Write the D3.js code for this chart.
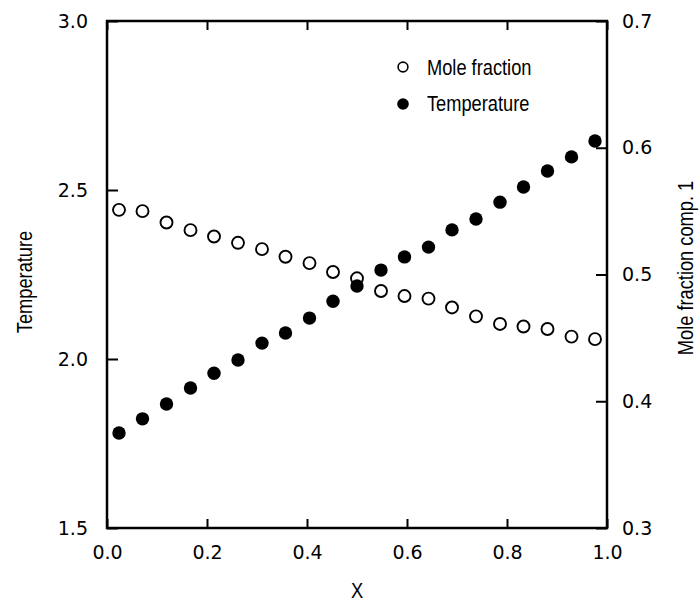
<!DOCTYPE html>
<html lang="en">
  <head>
    <meta charset="utf-8">
    <title>Temperature and mole fraction</title>
    <script src="https://cdn.jsdelivr.net/npm/d3@7"></script>
    <style>
      body { margin: 0; background: #fff; }
      .tick text { font-family: "DejaVu Sans", sans-serif; font-size: 19px; fill: #000; }
      .tick line { stroke: #000; stroke-width: 2; }
      .title { font-family: "Liberation Sans", Arial, sans-serif; font-size: 22px; fill: #000; }
    </style>
  </head>
  <body>
    <script>
      var w = 700;
      var h = 603;

      // x positions of the samples
      var xValues = [0.024, 0.071, 0.119, 0.167, 0.214, 0.262, 0.310, 0.357, 0.405, 0.452,
                     0.500, 0.548, 0.595, 0.643, 0.690, 0.738, 0.786, 0.833, 0.881, 0.929, 0.976];
      // open circles, right axis
      var moleFraction = [0.551, 0.550, 0.541, 0.535, 0.530, 0.525, 0.520, 0.514, 0.509, 0.502,
                          0.497, 0.487, 0.483, 0.481, 0.474, 0.467, 0.461, 0.459, 0.457, 0.451, 0.449];
      // filled circles, left axis
      var temperature = [1.781, 1.823, 1.867, 1.914, 1.958, 1.997, 2.047, 2.077, 2.121, 2.171,
                         2.216, 2.263, 2.302, 2.331, 2.382, 2.414, 2.464, 2.509, 2.556, 2.598, 2.645];

      var xTicks = [0.0, 0.2, 0.4, 0.6, 0.8, 1.0];
      var leftTicks = [1.5, 2.0, 2.5, 3.0];
      var rightTicks = [0.3, 0.4, 0.5, 0.6, 0.7];
      var legendLabels = ["Mole fraction", "Temperature"];

      var padL = 107, padR = 607, padT = 21, padB = 528;
      var squeeze = 0.83; // narrow lettering of the titles

      var xScale = d3.scaleLinear().domain([0, 1]).range([padL, padR]);
      var yLeft = d3.scaleLinear().domain([1.5, 3.0]).range([padB, padT]);
      var yRight = d3.scaleLinear().domain([0.3, 0.7]).range([padB, padT]);

      var svg = d3.select("body")
                  .append("svg")
                  .attr("width", w)
                  .attr("height", h);

      var fmt = d3.format(".1f");

      // axes, ticks point into the plot
      var xAxis = d3.axisBottom(xScale).tickValues(xTicks).tickFormat(fmt)
                    .tickSize(-9).tickPadding(18);
      var xTop = d3.axisTop(xScale).tickValues(xTicks).tickFormat("")
                   .tickSize(-9);
      var lAxis = d3.axisLeft(yLeft).tickValues(leftTicks).tickFormat(fmt)
                    .tickSize(-11).tickPadding(19);
      var rAxis = d3.axisRight(yRight).tickValues(rightTicks).tickFormat(fmt)
                    .tickSize(-11).tickPadding(15);

      svg.append("g").attr("transform", "translate(0," + padB + ")").call(xAxis);
      svg.append("g").attr("transform", "translate(0," + padT + ")").call(xTop);
      svg.append("g").attr("transform", "translate(" + padL + ",0)").call(lAxis);
      svg.append("g").attr("transform", "translate(" + padR + ",0)").call(rAxis);
      svg.selectAll(".domain").remove();
      svg.selectAll("g").attr("font-family", null).attr("font-size", null);

      // frame
      svg.append("rect")
         .attr("x", padL)
         .attr("y", padT)
         .attr("width", padR - padL)
         .attr("height", padB - padT)
         .attr("fill", "none")
         .attr("stroke", "#000")
         .attr("stroke-width", 2.5);

      var data = xValues.map(function (x, i) {
        return { x: x, m: moleFraction[i], t: temperature[i] };
      });

      svg.selectAll("circle.mole")
         .data(data)
         .enter()
         .append("circle")
         .attr("class", "mole")
         .attr("cx", function (d) { return xScale(d.x); })
         .attr("cy", function (d) { return yRight(d.m); })
         .attr("r", 6)
         .attr("fill", "#fff")
         .attr("stroke", "#000")
         .attr("stroke-width", 1.9);

      svg.selectAll("circle.temp")
         .data(data)
         .enter()
         .append("circle")
         .attr("class", "temp")
         .attr("cx", function (d) { return xScale(d.x); })
         .attr("cy", function (d) { return yLeft(d.t); })
         .attr("r", 6.7)
         .attr("fill", "#000");

      // legend
      svg.append("circle").attr("cx", 403).attr("cy", 67).attr("r", 4.9)
         .attr("fill", "#fff").attr("stroke", "#000").attr("stroke-width", 1.6);
      svg.append("circle").attr("cx", 403).attr("cy", 104).attr("r", 5.8)
         .attr("fill", "#000");
      svg.selectAll("text.legend")
         .data(legendLabels)
         .enter()
         .append("text")
         .attr("class", "title legend")
         .attr("transform", function (d, i) {
           return "translate(427," + (75 + i * 36) + ") scale(" + squeeze + ",1)";
         })
         .text(function (d) { return d; });

      // axis titles
      svg.append("text")
         .attr("class", "title")
         .attr("text-anchor", "middle")
         .attr("transform", "translate(" + (padL + padR) / 2 + ",598) scale(" + squeeze + ",1)")
         .text("X");

      svg.append("text")
         .attr("class", "title")
         .attr("text-anchor", "middle")
         .attr("transform", "translate(32,282) rotate(-90) scale(" + squeeze + ",1)")
         .text("Temperature");

      svg.append("text")
         .attr("class", "title")
         .attr("text-anchor", "middle")
         .attr("transform", "translate(693,268) rotate(-90) scale(" + squeeze + ",1)")
         .text("Mole fraction comp. 1");
    </script>
  </body>
</html>
